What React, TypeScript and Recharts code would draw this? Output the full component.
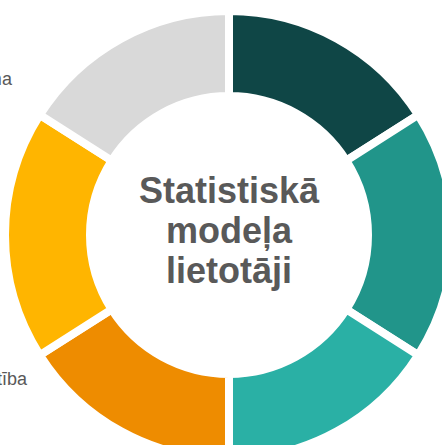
import React from "react";
import { PieChart, Pie, Cell, Label } from "recharts";

// groups of statistical model users, clockwise from the top (percent)
const categories = ["", "", "", "Zinātne un izglītība", "", "Politikas veidošana"];
const shares = [16, 18, 16, 16, 18, 16];
const colors = ["#0F4646", "#21958A", "#2AB0A5", "#EE8C00", "#FFB500", "#D9D9D9"];
const centerLines = ["Statistiskā", "modeļa", "lietotāji"];

const data = categories.map((name, i) => ({ name, value: shares[i] }));

const RAD = Math.PI / 180;

// side labels sit to the left of the ring, level with the slice middle
function renderLabel(props: any) {
  const { cx, cy, midAngle, index } = props;
  const name = categories[index];
  if (!name) return null;
  const s = Math.sin(-midAngle * RAD);
  const y = cy + s * 171;
  const x = cx - 209.5 + s * 8.7;
  return (
    <text
      x={x}
      y={y}
      textAnchor="end"
      fill="#595959"
      fontSize={18}
      fontFamily="'Liberation Sans', Arial, sans-serif"
    >
      {name}
    </text>
  );
}

function renderCenter(props: any) {
  const vb = props.viewBox || {};
  const cx = vb.cx ?? 229;
  const cy = vb.cy ?? 235;
  return (
    <text
      textAnchor="middle"
      fill="#595959"
      fontSize={36}
      fontWeight="bold"
      fontFamily="'Liberation Sans', Arial, sans-serif"
    >
      {centerLines.map((line, i) => (
        <tspan key={line} x={cx} y={cy - 32 + i * 40}>
          {line}
        </tspan>
      ))}
    </text>
  );
}

export default function App() {
  return (
    <div style={{ position: "absolute", left: 0, top: 0, width: 442, height: 445, background: "#fff" }}>
      <PieChart width={442} height={445} margin={{ top: 0, right: 0, bottom: 0, left: 0 }}>
        <Pie
          data={data}
          dataKey="value"
          nameKey="name"
          cx={229}
          cy={235}
          innerRadius={139}
          outerRadius={224}
          startAngle={90}
          endAngle={-270}
          stroke="#ffffff"
          strokeWidth={8}
          label={renderLabel}
          labelLine={false}
          isAnimationActive={false}
        >
          {data.map((d, i) => (
            <Cell key={i} fill={colors[i]} />
          ))}
          <Label position="center" content={renderCenter} />
        </Pie>
      </PieChart>
    </div>
  );
}
